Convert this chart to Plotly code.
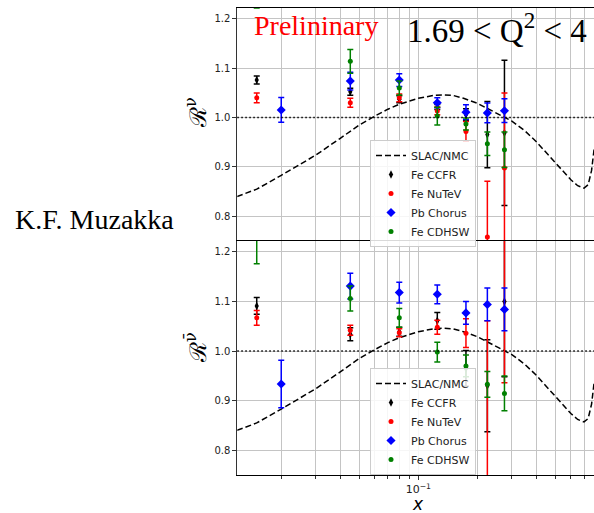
import plotly.graph_objects as go

# ---------------- data ----------------
X_FE = [0.015, 0.045, 0.08, 0.125, 0.175, 0.225, 0.275]
X_PB = [0.02, 0.045, 0.08, 0.125, 0.175, 0.225, 0.275]

SLAC_X = [0.0119, 0.015, 0.02, 0.03, 0.04, 0.05, 0.06, 0.07, 0.08, 0.1, 0.12, 0.135,
          0.15, 0.17, 0.2, 0.24, 0.28, 0.3, 0.35, 0.4, 0.5, 0.6, 0.65, 0.7, 0.735,
          0.765, 0.79]
SLAC_Y = [0.840, 0.855, 0.883, 0.924, 0.958, 0.985, 1.003, 1.017, 1.027, 1.039, 1.045,
          1.046, 1.045, 1.039, 1.029, 1.012, 0.999, 0.993, 0.973, 0.951, 0.908, 0.874,
          0.862, 0.857, 0.864, 0.893, 0.940]

# neutrino (top panel)
NU_CCFR = [1.076, 1.0525, 1.037, 1.0215, 1.006, 0.9655, 0.969]
NU_CCFR_E = [0.008, 0.007, 0.007, 0.005, 0.012, 0.067, 0.147]
NU_NUTEV = [1.040, 1.030, 1.040, 1.0135, 0.972, 0.758, 0.898]
NU_NUTEV_E = [0.010, 0.009, 0.008, 0.008, 0.020, 0.113, 0.152]
NU_CHORUS = [1.0155, 1.074, 1.076, 1.030, 1.011, 1.0095, 1.014]
NU_CHORUS_E = [0.025, 0.018, 0.013, 0.010, 0.015, 0.020, 0.024]
NU_CDHSW = [1.27, 1.114, 1.060, 1.003, 0.987, 0.947, 0.935]
NU_CDHSW_E = [0.048, 0.024, 0.014, 0.018, 0.012, 0.024, 0.036]

# anti-neutrino (bottom panel)
NB_CCFR = [1.091, 1.034, 1.039, 1.061, 0.965, 0.930, 1.100]
NB_CCFR_E = [0.017, 0.013, 0.009, 0.017, 0.036, 0.093, 0.152]
NB_NUTEV = [1.067, 1.042, 1.037, 1.048, 1.036, 0.700, 1.250]
NB_NUTEV_E = [0.015, 0.010, 0.008, 0.014, 0.029, 0.361, 0.314]
NB_CHORUS = [0.9335, 1.131, 1.118, 1.1145, 1.077, 1.094, 1.084]
NB_CHORUS_E = [0.048, 0.026, 0.021, 0.019, 0.023, 0.033, 0.043]
NB_CDHSW = [1.25, 1.106, 1.067, 0.998, 0.970, 0.933, 0.9145]
NB_CDHSW_E = [0.074, 0.025, 0.019, 0.020, 0.022, 0.026, 0.035]

REF_LINE = 1.0
Y_TICKS = [0.8, 0.9, 1.0, 1.1, 1.2]
X_MAJOR = [0.1]
X_MAJOR_TEXT = ["10<sup>\u22121</sup>"]
X_MINOR = [0.02, 0.03, 0.04, 0.05, 0.06, 0.07, 0.08, 0.09, 0.2, 0.3, 0.4, 0.5, 0.6, 0.7]

SERIES = ["Fe CCFR", "Fe NuTeV", "Pb Chorus", "Fe CDHSW"]
COLORS = ["black", "red", "blue", "green"]
SYMBOLS = ["diamond-tall", "circle", "diamond", "circle"]
SIZES = [6, 5, 7, 5]

# ---------------- figure ----------------
W, H = 594, 513
fig = go.Figure()

GRID = "#c4c4c4"
TICKFONT = dict(family="DejaVu Sans", size=10, color="#222")

panels = [
    ("x", "y", "legend", [NU_CCFR, NU_NUTEV, NU_CHORUS, NU_CDHSW],
     [NU_CCFR_E, NU_NUTEV_E, NU_CHORUS_E, NU_CDHSW_E]),
    ("x2", "y2", "legend2", [NB_CCFR, NB_NUTEV, NB_CHORUS, NB_CDHSW],
     [NB_CCFR_E, NB_NUTEV_E, NB_CHORUS_E, NB_CDHSW_E]),
]

for xa, ya, lg, vals, errs in panels:
    fig.add_trace(go.Scatter(
        x=SLAC_X, y=SLAC_Y, mode="lines", name="SLAC/NMC",
        line=dict(color="black", width=1.5, dash="6px,3px"),
        xaxis=xa, yaxis=ya, legend=lg, cliponaxis=True))
    for i, name in enumerate(SERIES):
        xs = X_PB if name == "Pb Chorus" else X_FE
        fig.add_trace(go.Scatter(
            x=xs, y=vals[i], mode="markers", name=name,
            marker=dict(color=COLORS[i], symbol=SYMBOLS[i], size=SIZES[i]),
            error_y=dict(type="data", array=errs[i], visible=True,
                         color=COLORS[i], thickness=1.5, width=3),
            xaxis=xa, yaxis=ya, legend=lg, cliponaxis=True))

xl = 237.3 / W
top_dom = [(H - 241) / H, (H - 8) / H]
bot_dom = [(H - 475) / H, (H - 241) / H]
xrange_ = [-1.923, -0.104]

MINOR_GRID = dict(tickmode="array", tickvals=X_MINOR, showgrid=True,
                  gridcolor=GRID, gridwidth=1)

common_x = dict(
    type="log", range=xrange_, domain=[xl, 1],
    showline=True, linecolor="black", linewidth=1,
    tickmode="array", tickvals=X_MAJOR, ticktext=X_MAJOR_TEXT,
    showgrid=True, gridcolor=GRID, gridwidth=1, zeroline=False,
    tickfont=dict(TICKFONT, size=11),
)
common_y = dict(
    range=[0.75, 1.222], tickmode="array", tickvals=Y_TICKS, tickformat=".1f",
    showline=True, linecolor="#333", linewidth=1, mirror=False,
    ticks="outside", ticklen=4, tickcolor="#333",
    showgrid=True, gridcolor=GRID, gridwidth=1, zeroline=False,
    tickfont=TICKFONT,
)

LEG = dict(xanchor="left", yanchor="top",
           bgcolor="rgba(255,255,255,0.85)", bordercolor="#cccccc",
           borderwidth=1, font=dict(family="DejaVu Sans", size=11, color="#222"),
           itemwidth=30, tracegroupgap=0)

fig.update_layout(
    width=W, height=H,
    margin=dict(l=0, r=0, t=0, b=0),
    paper_bgcolor="white", plot_bgcolor="white",
    xaxis=dict(common_x, anchor="y", side="top", showticklabels=False, ticks="",
               mirror=False, minor=MINOR_GRID),
    xaxis2=dict(common_x, anchor="y2", matches="x", mirror=True,
                ticks="outside", ticklen=4, tickcolor="#333",
                minor=dict(MINOR_GRID, ticks="outside", ticklen=2.5, tickcolor="#333")),
    yaxis=dict(common_y, domain=top_dom, anchor="x"),
    yaxis2=dict(common_y, domain=bot_dom, anchor="x2"),
    showlegend=True,
    legend=dict(LEG, x=370 / W, y=(H - 140) / H),
    legend2=dict(LEG, x=370 / W, y=(H - 368) / H),
)

# y = 1 reference lines
for xr, yr in [("x domain", "y"), ("x2 domain", "y2")]:
    fig.add_shape(type="line", xref=xr, yref=yr, x0=0, x1=1, y0=REF_LINE, y1=REF_LINE,
                  line=dict(color="black", width=1.5, dash="1.5px,2.5px"), layer="above")

annos = [
    dict(text="K.F. Muzakka", x=94 / W, y=(H - 219) / H,
         font=dict(family="Liberation Serif", size=28, color="black")),
    dict(text="Prelininary", x=316 / W, y=(H - 25) / H,
         font=dict(family="Liberation Serif", size=28, color="red")),
    dict(text="1.69 &lt; Q<sup>2</sup> &lt; 4", x=497 / W, y=(H - 28) / H,
         font=dict(family="Liberation Serif", size=33, color="black")),
    dict(text="\u211B<sup>\u03bd</sup>", x=196 / W, y=(H - 113) / H, textangle=-90,
         font=dict(family="DejaVu Serif", size=23, color="black")),
    dict(text="\u211B<sup>\u03bd\u0304</sup>", x=196 / W, y=(H - 348) / H, textangle=-90,
         font=dict(family="DejaVu Serif", size=23, color="black")),
    dict(text="<i>x</i>", x=418 / W, y=(H - 504) / H,
         font=dict(family="DejaVu Sans", size=17, color="black")),
]
for a in annos:
    fig.add_annotation(xref="paper", yref="paper", showarrow=False,
                       xanchor="center", yanchor="middle", **a)

fig.write_html("out.html")
